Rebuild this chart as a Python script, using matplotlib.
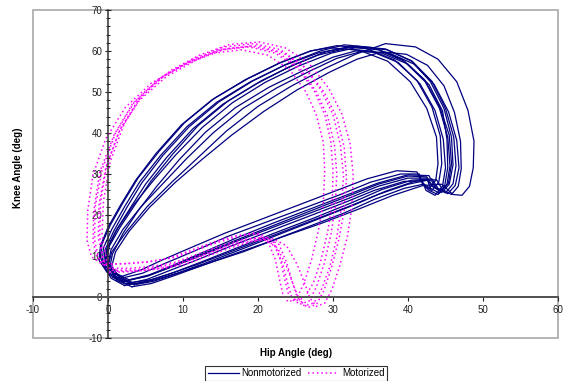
import matplotlib
matplotlib.use("Agg")
import matplotlib.pyplot as plt
from matplotlib.patches import Rectangle
from matplotlib.ticker import MultipleLocator

plt.rcParams['font.family'] = ['Liberation Sans', 'DejaVu Sans']
plt.rcParams['axes.unicode_minus'] = False

# ---------------- data ----------------
x_ticks = [-10, 0, 10, 20, 30, 40, 50, 60]
y_ticks = [-10, 0, 10, 20, 30, 40, 50, 60, 70]
x_label = "Hip Angle (deg)"
y_label = "Knee Angle (deg)"
series_names = ["Nonmotorized", "Motorized"]

# Nonmotorized cycles (hip angle x, knee angle y)
nm1_x = [2.0, 0.2, -0.8, -0.6, 0.5, 2.2, 4.2, 7.0, 10.5, 14.5, 19.0, 23.5, 28.0, 32.0, 36.0, 39.5, 42.3, 44.2, 45.3, 45.6, 45.2, 44.2, 43.0, 42.5, 40.0, 36.0, 32.0, 27.0, 22.0, 17.0, 12.0, 8.0, 5.0, 2.0]
nm1_y = [3.8, 5.5, 8.5, 12.0, 16.5, 22.0, 28.0, 34.5, 41.5, 47.5, 52.5, 56.5, 59.5, 61.0, 60.3, 57.5, 52.5, 46.0, 39.0, 32.0, 27.5, 25.3, 26.5, 29.0, 29.0, 27.0, 24.0, 20.5, 17.0, 13.5, 9.8, 7.0, 5.0, 3.8]
nm2_x = [2.5, 0.6, -0.4, -0.2, 1.0, 2.9, 5.0, 7.8, 11.3, 15.3, 19.8, 24.0, 28.0, 31.5, 35.0, 38.7, 41.6, 43.6, 44.7, 45.0, 44.6, 43.6, 42.4, 41.9, 39.5, 35.5, 31.5, 26.5, 21.5, 16.5, 11.8, 8.0, 5.2, 2.5]
nm2_y = [3.2, 4.8, 7.8, 11.5, 16.0, 21.5, 27.5, 34.0, 41.0, 47.0, 52.0, 56.0, 59.0, 60.5, 60.0, 57.2, 52.0, 45.5, 38.5, 31.5, 27.0, 24.8, 26.0, 28.3, 28.2, 26.0, 23.0, 19.5, 16.0, 12.5, 9.0, 6.3, 4.3, 3.2]
nm3_x = [2.8, 0.8, -0.2, 0.2, 1.6, 3.6, 5.7, 8.6, 12.0, 16.0, 20.5, 25.0, 29.0, 33.0, 37.0, 40.5, 43.2, 45.0, 46.1, 46.4, 46.0, 45.0, 43.6, 42.8, 40.0, 36.0, 32.0, 27.0, 22.0, 17.0, 12.3, 8.5, 5.5, 2.8]
nm3_y = [4.2, 6.0, 9.0, 12.5, 17.0, 22.5, 28.2, 34.8, 41.8, 47.8, 52.8, 56.8, 59.8, 61.2, 60.5, 57.6, 52.6, 46.0, 39.0, 32.0, 27.6, 25.4, 26.8, 29.6, 29.8, 27.8, 25.0, 21.5, 18.0, 14.3, 10.6, 7.6, 5.4, 4.2]
nm4_x = [1.6, -0.2, -1.2, -1.0, 0.0, 1.7, 3.7, 6.4, 9.8, 13.8, 18.3, 22.8, 27.0, 30.5, 34.5, 38.2, 41.2, 43.2, 44.3, 44.5, 44.1, 43.2, 42.0, 41.5, 39.0, 35.0, 31.0, 26.0, 21.0, 16.0, 11.5, 7.6, 4.6, 1.6]
nm4_y = [4.5, 6.2, 9.0, 12.5, 17.0, 22.5, 28.5, 35.0, 42.0, 48.0, 53.0, 57.0, 60.0, 61.3, 60.6, 57.8, 52.8, 46.3, 39.3, 32.5, 28.0, 26.0, 27.3, 30.0, 30.0, 28.0, 25.0, 21.6, 18.2, 14.8, 11.2, 8.2, 5.8, 4.5]
nm5_x = [3.5, 1.2, 0.0, 0.5, 2.5, 5.2, 8.5, 12.0, 15.8, 20.0, 24.5, 29.0, 33.0, 37.0, 41.0, 44.0, 46.5, 48.0, 48.8, 48.7, 48.2, 47.2, 46.0, 44.5, 42.0, 38.0, 33.5, 28.5, 23.0, 18.0, 13.0, 9.0, 6.0, 3.5]
nm5_y = [3.0, 4.5, 7.5, 11.0, 16.0, 22.0, 28.0, 34.0, 40.5, 46.5, 51.5, 55.8, 59.2, 61.8, 61.0, 58.0, 52.5, 45.5, 38.0, 31.5, 27.0, 24.8, 25.0, 27.5, 27.2, 24.8, 21.5, 18.0, 14.5, 11.0, 8.0, 5.6, 3.8, 3.0]
nm6_x = [3.0, 1.0, 0.0, 0.4, 2.0, 4.4, 7.5, 10.5, 14.0, 18.0, 22.5, 26.8, 30.5, 34.0, 37.5, 40.8, 43.5, 45.4, 46.5, 46.8, 46.3, 45.3, 44.0, 43.2, 40.5, 36.5, 32.5, 27.5, 22.5, 17.5, 12.8, 8.8, 5.8, 3.0]
nm6_y = [3.5, 5.0, 8.0, 11.5, 16.5, 22.0, 28.0, 33.8, 40.0, 46.0, 51.0, 55.0, 58.2, 60.0, 59.5, 56.8, 51.8, 45.2, 38.2, 31.5, 27.2, 25.2, 26.5, 28.8, 28.5, 26.2, 23.0, 19.3, 15.8, 12.2, 8.8, 6.0, 4.2, 3.5]
nm7_x = [2.2, 0.4, -0.6, -0.4, 0.8, 2.5, 4.5, 7.3, 10.8, 14.8, 19.3, 23.8, 28.3, 31.5, 35.5, 39.2, 42.2, 44.2, 45.5, 45.8, 45.4, 44.4, 43.2, 42.6, 40.0, 36.0, 32.0, 27.0, 22.0, 17.0, 12.0, 8.0, 5.0, 2.2]
nm7_y = [2.8, 4.6, 7.8, 11.5, 16.2, 21.8, 27.8, 34.5, 41.5, 47.6, 52.7, 56.8, 60.0, 61.5, 60.8, 58.0, 53.0, 46.5, 39.5, 32.5, 27.8, 25.8, 27.0, 28.5, 27.5, 25.0, 22.0, 18.5, 15.0, 11.5, 8.0, 5.5, 3.8, 2.8]
nm8_x = [2.6, 0.7, -0.3, 0.0, 1.3, 3.3, 6.0, 9.0, 12.6, 16.6, 21.0, 25.5, 29.8, 33.5, 37.2, 40.5, 43.0, 44.8, 45.8, 46.0, 45.5, 44.5, 43.3, 42.5, 40.0, 36.0, 32.0, 27.0, 22.0, 17.0, 12.2, 8.2, 5.3, 2.6]
nm8_y = [4.0, 5.8, 8.8, 12.2, 16.8, 22.2, 28.3, 34.6, 41.4, 47.4, 52.4, 56.4, 59.5, 61.0, 60.3, 57.5, 52.5, 46.0, 39.0, 32.2, 27.5, 25.5, 27.0, 29.3, 29.5, 27.5, 24.6, 21.0, 17.4, 13.8, 10.2, 7.2, 5.1, 4.0]
nm9_x = [1.8, 0.0, -1.0, -0.8, 0.3, 2.0, 4.0, 6.8, 10.2, 14.2, 18.7, 23.0, 27.0, 29.5, 33.5, 37.3, 40.3, 42.5, 43.8, 44.0, 43.7, 42.9, 41.8, 41.2, 38.5, 34.5, 30.5, 25.5, 20.5, 15.5, 11.0, 7.2, 4.4, 1.8]
nm9_y = [5.0, 6.8, 9.5, 13.0, 17.5, 23.0, 29.0, 35.5, 42.5, 48.5, 53.3, 57.2, 60.0, 60.8, 60.2, 57.5, 52.5, 46.0, 39.0, 32.5, 28.5, 26.6, 28.0, 30.5, 30.8, 28.8, 26.0, 22.5, 19.0, 15.5, 12.0, 9.0, 6.6, 5.0]
nm10_x = [3.2, 1.2, 0.2, 0.6, 2.0, 4.0, 6.5, 9.5, 13.0, 17.0, 21.5, 26.0, 30.0, 33.0, 36.5, 40.0, 42.8, 44.6, 45.2, 45.3, 44.9, 44.0, 42.8, 42.0, 39.5, 35.5, 31.5, 26.5, 21.5, 16.5, 12.0, 8.5, 5.8, 3.2]
nm10_y = [2.5, 4.0, 7.0, 10.5, 15.5, 21.0, 27.0, 33.5, 40.2, 46.2, 51.2, 55.2, 58.5, 60.0, 59.5, 56.8, 51.8, 45.4, 38.4, 31.6, 27.2, 25.0, 26.0, 27.5, 26.5, 23.8, 20.5, 17.0, 13.5, 10.3, 7.3, 5.0, 3.3, 2.5]
nm11_x = [3.8, 1.6, 0.5, 1.0, 2.8, 5.5, 9.0, 12.5, 16.5, 20.8, 25.2, 29.5, 33.2, 36.5, 39.8, 42.6, 44.8, 46.2, 47.0, 47.1, 46.7, 45.8, 44.6, 43.8, 41.0, 37.0, 33.0, 28.0, 23.0, 18.0, 13.2, 9.2, 6.3, 3.8]
nm11_y = [3.2, 4.6, 7.5, 11.0, 16.0, 21.8, 28.0, 33.5, 39.5, 45.3, 50.5, 54.8, 58.0, 59.8, 59.2, 56.5, 51.5, 45.0, 38.0, 31.3, 27.0, 25.0, 26.2, 28.6, 28.3, 25.8, 22.6, 19.0, 15.4, 11.8, 8.4, 5.8, 4.2, 3.2]

# Motorized cycles
m1_x = [0.0, 3.0, 6.0, 9.0, 12.0, 15.0, 18.0, 20.5, 22.3, 23.3, 24.0, 24.5, 25.5, 26.8, 27.8, 28.8, 29.7, 30.3, 30.5, 30.2, 29.3, 27.8, 25.5, 22.5, 19.0, 15.0, 11.0, 7.0, 3.5, 1.0, -0.8, -1.7, -1.8, -1.2, 0.0]
m1_y = [7.0, 7.0, 7.5, 8.5, 10.5, 12.5, 14.0, 14.5, 12.5, 8.0, 3.0, 0.0, -1.8, -1.0, 2.5, 8.0, 15.0, 22.0, 30.0, 37.0, 44.0, 50.0, 56.0, 59.8, 61.2, 60.3, 57.5, 53.5, 47.5, 40.0, 31.0, 22.0, 14.0, 9.0, 7.0]
m2_x = [0.5, 3.5, 6.5, 9.5, 12.5, 15.5, 18.5, 21.0, 22.8, 23.8, 24.6, 25.2, 26.2, 27.5, 28.5, 29.6, 30.5, 31.1, 31.4, 31.0, 30.0, 28.4, 26.0, 23.0, 19.5, 15.5, 11.5, 7.5, 4.0, 1.5, -0.3, -1.2, -1.3, -0.6, 0.5]
m2_y = [6.5, 6.6, 7.2, 8.3, 10.2, 12.3, 13.9, 14.6, 12.8, 8.5, 3.5, 0.2, -2.2, -1.4, 2.0, 7.5, 14.5, 21.5, 29.5, 37.0, 44.5, 50.5, 56.5, 60.3, 61.8, 61.0, 58.2, 54.0, 48.0, 40.5, 31.5, 22.5, 14.5, 9.0, 6.5]
m3_x = [-0.8, 2.2, 5.2, 8.2, 11.2, 14.2, 17.2, 19.6, 21.3, 22.3, 22.9, 23.3, 24.0, 25.1, 26.1, 27.1, 28.0, 28.7, 28.9, 28.7, 27.8, 26.4, 24.2, 21.3, 17.8, 13.8, 9.8, 5.8, 2.3, -0.3, -2.0, -2.7, -2.8, -2.2, -0.8]
m3_y = [8.0, 8.1, 8.5, 9.5, 11.5, 13.5, 15.0, 15.6, 13.6, 9.2, 4.0, 0.8, -1.2, -0.5, 3.2, 8.8, 15.8, 22.8, 30.8, 37.8, 44.3, 50.0, 55.5, 59.0, 60.3, 59.4, 56.3, 52.2, 46.2, 38.6, 29.8, 21.0, 13.8, 9.8, 8.0]
m4_x = [0.2, 3.2, 6.2, 9.2, 12.2, 15.2, 18.2, 20.8, 22.6, 23.8, 24.8, 25.5, 26.6, 27.8, 28.8, 29.8, 30.8, 31.5, 31.8, 31.5, 30.5, 28.8, 26.4, 23.3, 19.8, 15.8, 11.8, 7.8, 4.2, 1.6, -0.2, -1.0, -1.1, -0.6, 0.2]
m4_y = [6.0, 6.2, 6.8, 7.8, 9.8, 11.8, 13.4, 14.0, 12.0, 7.5, 2.5, -0.6, -2.6, -1.8, 1.6, 7.2, 14.2, 21.2, 29.0, 36.5, 43.8, 50.0, 55.8, 59.6, 61.3, 60.6, 57.8, 53.8, 48.0, 40.8, 32.0, 23.0, 15.0, 8.5, 6.0]
m5_x = [-0.2, 2.8, 5.8, 8.8, 11.8, 14.8, 17.8, 20.2, 22.0, 23.0, 23.6, 24.0, 24.8, 26.2, 27.4, 28.4, 29.3, 29.9, 30.0, 29.7, 28.9, 27.5, 25.3, 22.3, 18.8, 14.8, 10.8, 6.8, 3.3, 0.8, -1.1, -1.9, -2.0, -1.5, -0.2]
m5_y = [8.0, 8.2, 8.7, 9.6, 11.5, 13.4, 15.0, 15.5, 13.5, 9.0, 4.0, 1.0, -1.0, -0.2, 3.5, 9.0, 16.0, 23.0, 31.0, 38.0, 44.5, 50.3, 55.8, 59.5, 61.0, 60.2, 57.3, 53.2, 47.2, 39.5, 30.5, 21.0, 13.5, 10.0, 8.0]
m6_x = [1.2, 4.2, 7.2, 10.2, 13.2, 16.2, 19.2, 21.8, 23.8, 25.2, 26.3, 26.9, 27.8, 28.9, 29.9, 30.9, 31.9, 32.5, 32.7, 32.3, 31.2, 29.4, 26.8, 23.6, 20.2, 16.2, 12.2, 8.3, 4.6, 2.1, 0.3, -0.6, -0.8, -0.2, 1.2]
m6_y = [6.3, 6.4, 6.9, 7.9, 9.9, 11.9, 13.6, 14.4, 12.5, 8.0, 3.0, -0.2, -2.3, -1.5, 2.0, 7.6, 14.6, 21.6, 29.5, 37.2, 44.6, 51.0, 57.0, 60.8, 62.2, 61.6, 59.0, 55.2, 49.5, 42.0, 33.0, 23.5, 15.2, 9.0, 6.3]

nonmotorized = [(nm1_x, nm1_y), (nm2_x, nm2_y), (nm3_x, nm3_y), (nm4_x, nm4_y),
                (nm5_x, nm5_y), (nm6_x, nm6_y), (nm7_x, nm7_y), (nm8_x, nm8_y),
                (nm9_x, nm9_y), (nm10_x, nm10_y), (nm11_x, nm11_y)]
motorized = [(m1_x, m1_y), (m2_x, m2_y), (m3_x, m3_y),
             (m4_x, m4_y), (m5_x, m5_y), (m6_x, m6_y)]

# ---------------- figure ----------------
W, H = 566, 381
fig = plt.figure(figsize=(W / 100, H / 100), dpi=100)
ax = fig.add_axes([33 / W, 1 - 338 / H, 525 / W, 328 / H])

navy = '#000080'
mag = '#FF00FF'

for i, (xs, ys) in enumerate(nonmotorized):
    ax.plot(xs, ys, color=navy, lw=0.9, solid_joinstyle='round',
            label=series_names[0] if i == 0 else None)
for i, (xs, ys) in enumerate(motorized):
    ax.plot(xs, ys, color=mag, lw=1.1, linestyle=(0, (1, 1.9)),
            label=series_names[1] if i == 0 else None)

ax.set_xlim(-10, 60)
ax.set_ylim(-10, 70)
ax.set_xticks(x_ticks)
ax.set_yticks(y_ticks)
ax.yaxis.set_minor_locator(MultipleLocator(2))

for s in ['top', 'right']:
    ax.spines[s].set_visible(False)
ax.spines['left'].set_position(('data', 0))
ax.spines['bottom'].set_position(('data', 0))
ax.spines['left'].set_color('#303030')
ax.spines['bottom'].set_color('#505050')
ax.spines['left'].set_linewidth(1.1)
ax.spines['bottom'].set_linewidth(1.4)

ax.add_patch(Rectangle((0, 0), 1, 1, transform=ax.transAxes, fill=False,
                       ec='#a8a8a8', lw=1.2, clip_on=False, zorder=0))

ax.tick_params(axis='y', which='major', direction='inout', length=4, width=0.8,
               labelsize=7, pad=2, colors='#202020')
ax.tick_params(axis='y', which='minor', direction='inout', length=3, width=0.7,
               colors='#202020')
ax.tick_params(axis='x', which='major', direction='out', length=3, width=0.8,
               labelsize=7, pad=3, colors='#202020')

fig.text(296 / W, 1 - 353 / H, x_label, ha='center', va='center',
         fontsize=7, fontweight='bold')
fig.text(18 / W, 1 - 168 / H, y_label, ha='center', va='center',
         fontsize=7, fontweight='bold', rotation=90)

leg = fig.legend(loc='center', bbox_to_anchor=(296 / W, 1 - 373.5 / H),
                 ncol=2, fontsize=7, frameon=True, fancybox=False,
                 handlelength=3.2, handletextpad=0.3, columnspacing=0.6,
                 borderpad=0.25, borderaxespad=0)
leg.get_frame().set_edgecolor('black')
leg.get_frame().set_linewidth(0.8)

fig.savefig('out.png', dpi=100)
